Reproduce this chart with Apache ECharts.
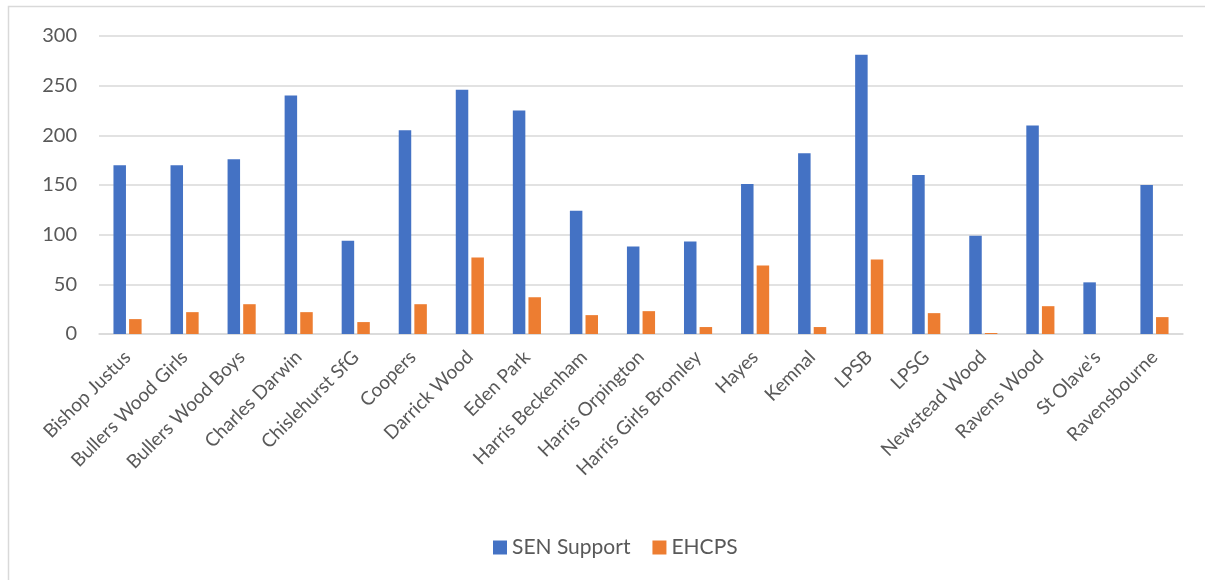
<!DOCTYPE html>
<html><head><meta charset="utf-8">
<script src="https://cdn.jsdelivr.net/npm/echarts@6/dist/echarts.min.js"></script>
<style>html,body{margin:0;padding:0;background:#fff}#c{width:1205px;height:580px}</style>
</head><body><div id="c"></div>
<script>
const categories = ["Bishop Justus","Bullers Wood Girls","Bullers Wood Boys","Charles Darwin","Chislehurst SfG","Coopers","Darrick Wood","Eden Park","Harris Beckenham","Harris Orpington","Harris Girls Bromley","Hayes","Kemnal","LPSB","LPSG","Newstead Wood","Ravens Wood","St Olave's","Ravensbourne"];
const senSupport = [170,170,176,240,94,205,246,225,124,88,93,151,182,281,160,99,210,52,150];
const ehcps = [15,22,30,22,12,30,77,37,19,23,7,69,7,75,21,1,28,0,17];
const yTicks = {min:0, max:300, interval:50};

const chart = echarts.init(document.getElementById('c'), null, {renderer:'canvas'});
const font = 'Lato, "Open Sans", sans-serif';
chart.setOption({
  animation:false,
  backgroundColor:'#fff',
  graphic:[{type:'rect',shape:{x:8.5,y:6.5,width:1300,height:700},style:{fill:'none',stroke:'#d9d9d9',lineWidth:1.5},silent:true}],
  grid:{left:99,right:22,top:36,bottom:246},
  legend:{bottom:17,left:488,itemWidth:14,itemHeight:14,itemGap:22,icon:'rect',
    textStyle:{color:'#595959',fontSize:21,fontFamily:font},data:['SEN Support','EHCPS']},
  xAxis:{type:'category',data:categories,
    axisLine:{lineStyle:{color:'#d9d9d9',width:1.5}},axisTick:{show:false},
    axisLabel:{rotate:45,interval:0,color:'#595959',fontSize:19,fontFamily:font,margin:20}},
  yAxis:{type:'value',min:yTicks.min,max:yTicks.max,interval:yTicks.interval,
    axisLine:{show:false},axisTick:{show:false},
    splitLine:{lineStyle:{color:'#d9d9d9',width:1.5}},
    axisLabel:{color:'#595959',fontSize:20,fontFamily:font,margin:22}},
  series:[
    {name:'SEN Support',type:'bar',data:senSupport,barWidth:12.5,barGap:'25%',itemStyle:{color:'#4472c4'}},
    {name:'EHCPS',type:'bar',data:ehcps,barWidth:12.5,barGap:'25%',itemStyle:{color:'#ed7d31'}}
  ]
});
</script></body></html>
